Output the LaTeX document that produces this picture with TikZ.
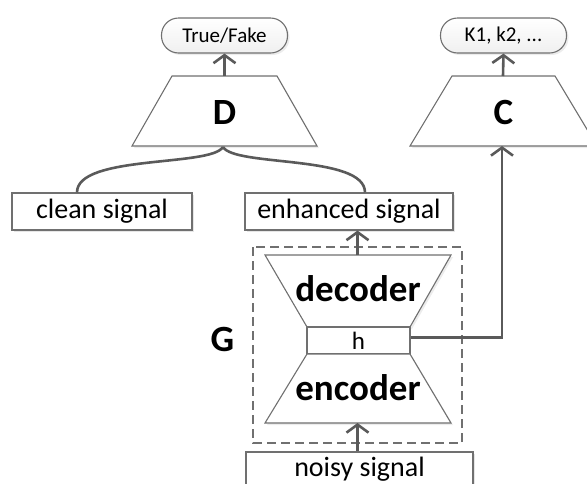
\documentclass[tikz,border=0pt]{standalone}
\usepackage{fontspec}
\setmainfont{Carlito}
\usepackage{tikz}
\usetikzlibrary{arrows.meta,shadows}
\definecolor{lnGray}{RGB}{90,90,90}
\definecolor{bdGray}{RGB}{112,112,112}

\begin{document}
\begin{tikzpicture}[x=1pt, y=-1pt,
  sig/.style={rectangle, draw=bdGray, line width=1.1pt, fill=white,
              minimum height=37pt, inner sep=0pt,
              font=\fontsize{28}{28}\selectfont,
              drop shadow={opacity=0.2, shadow xshift=2pt, shadow yshift=-2pt}},
  pill/.style={rectangle, rounded corners=17pt, draw=bdGray, line width=1.1pt,
               top color=white, bottom color=black!6,
               minimum width=126pt, minimum height=35pt, inner sep=0pt,
               font=\fontsize{21}{21}\selectfont,
               drop shadow={opacity=0.15, shadow xshift=2pt, shadow yshift=-2pt}},
  trap/.style={draw=bdGray, line width=1.1pt, fill=white, line join=miter,
               drop shadow={opacity=0.15, shadow xshift=2pt, shadow yshift=-2pt}},
  big/.style={font=\fontsize{37}{37}\selectfont\bfseries, inner sep=0pt},
  arr/.style={-{Straight Barb[length=8pt, width=22pt, line width=2.6pt]},
              line width=2.6pt, lnGray},
  con/.style={line width=2.6pt, lnGray}]

\useasboundingbox (0,0) rectangle (587,483);

% discriminator and classifier
\node[pill] (tf) at (224.5,35.5) {True/Fake};
\node[pill] (kk) at (503.5,35.5) {K1, k2, ...};
\draw[trap] (172,76) -- (277,76) -- (317,146) -- (132,146) -- cycle;
\node[big] (D) at (224.5,112) {D};
\coordinate (Dtop) at (224.5,76);
\coordinate (Dbot) at (223,147);
\draw[trap] (452,76) -- (555,76) -- (597,146) -- (410,146) -- cycle;
\node[big] (C) at (503.5,112) {C};
\coordinate (Ctop) at (503,76);
\coordinate (Cbot) at (502,146);

% signals
\node[sig, minimum width=180pt] (clean) at (102,211.5) {clean signal};
\node[sig, minimum width=208pt] (enh) at (349,211.5) {enhanced signal};
\node[sig, minimum width=227pt, minimum height=34pt] (noisy) at (359.5,469) {noisy signal};

% generator
\draw[dashed, bdGray, line width=1.1pt, dash pattern=on 9pt off 5pt]
  (253,247) rectangle (462,443);
\node[big] (G) at (222.5,339) {G};
\draw[trap] (265,255) -- (451,255) -- (410,327) -- (307,327) -- cycle;
\node[big] (dec) at (358,289) {decoder};
\coordinate (dectop) at (357.5,255);
\node[rectangle, draw=bdGray, line width=1.1pt, fill=white, inner sep=0pt,
      minimum width=103pt, minimum height=27pt,
      font=\fontsize{25}{25}\selectfont] (h) at (358.5,340.5) {h};
\draw[trap] (307,354) -- (410,354) -- (451,423) -- (265,423) -- cycle;
\node[big] (enc) at (358,388) {encoder};
\coordinate (encbot) at (357.5,423);

% connectors
\draw[arr] (Dtop) -- (tf.south);
\draw[arr] (Ctop) -- (kk.south);
\draw[con] (Dbot) .. controls +(-12,20) and +(0,-38) .. ([xshift=-25pt]clean.north);
\draw[con] (Dbot) .. controls +(12,20) and +(0,-38) .. ([xshift=16pt]enh.north);
\draw[arr] (dectop) -- ([xshift=8.5pt]enh.south);
\draw[arr] ([xshift=-2pt]noisy.north) -- (encbot);
\draw[arr] ([yshift=3pt]h.east) -| (Cbot);
\end{tikzpicture}
\end{document}
